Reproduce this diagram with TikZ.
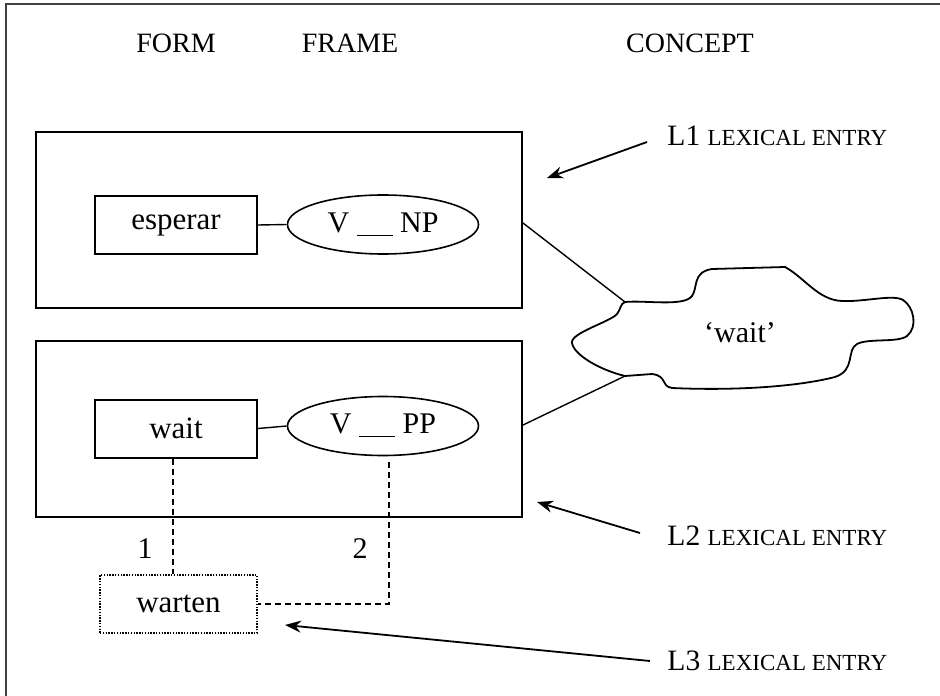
\documentclass[tikz,border=0pt]{standalone}
\usepackage{fontspec}
\setmainfont{Liberation Serif}
\usetikzlibrary{arrows.meta,shapes.geometric,calc}
\newcommand{\fsc}[1]{{\fontsize{11.5}{14}\selectfont #1}}
\begin{document}
\begin{tikzpicture}[x=0.5pt,y=-0.5pt,
  txt/.style={font=\fontsize{15}{17}\selectfont, inner sep=0pt},
  lab/.style={font=\fontsize{14.8}{17}\selectfont, inner sep=0pt},
  hdr/.style={font=\fontsize{14}{16}\selectfont, inner sep=0pt},
  entrybox/.style={draw, line width=1pt, minimum width=243pt, minimum height=88pt, inner sep=0pt},
  formbox/.style={draw, line width=1pt, minimum width=81pt, minimum height=29pt, inner sep=0pt, font=\fontsize{15.5}{17}\selectfont},
  framell/.style={draw, ellipse, line width=0.8pt, minimum width=95.5pt, minimum height=29.5pt, inner sep=0pt, font=\fontsize{15}{17}\selectfont},
  dotbox/.style={draw, line width=1pt, dash pattern=on 0.7pt off 0.7pt, minimum width=78.5pt, minimum height=29pt, inner sep=0pt, font=\fontsize{15.5}{17}\selectfont},
  link/.style={line width=0.7pt},
  dlink/.style={line width=1pt, dash pattern=on 3pt off 2pt},
  pointer/.style={line width=0.9pt, -{Stealth[length=8pt,width=6pt]}}
]
\useasboundingbox (0,0) rectangle (940,695);
% outer frame (top and left edges only)
\draw[line width=1pt, draw=black!75] (5.5,700) -- (5.5,4.5) -- (945,4.5);

% headers
\node[hdr] (hform) at (176,43) {FORM};
\node[hdr] (hframe) at (350,43) {FRAME};
\node[hdr] (hconcept) at (690,43) {CONCEPT};

% entry boxes
\node[entrybox] (L1) at (279,220) {};
\node[entrybox] (L2) at (279,428.5) {};

% forms and frames
\node[formbox] (esperar) at (176,225) {esperar};
\node[framell] (NP) at (383,224.5) {V \underline{\hspace{1.2em}} NP};
\node[formbox] (wait) at (176,428.5) {wait};
\node[framell] (PP) at (383,426) {V \underline{\hspace{1.2em}} PP};
\node[dotbox] (warten) at (178.5,604) {warten};

\draw[link] (esperar.east) -- (NP.west);
\draw[link] (wait.east) -- (PP.west);

% dashed links
\draw[dlink] ($(wait.south)+(-3,0)$) -- ($(wait.south -| warten.north)+(-5.5,0)$) coordinate (d1) -- (d1 |- warten.north);
\coordinate (ppb) at ($(PP.south)+(6,6)$);
\draw[dlink] (ppb) -- (ppb |- warten.east) -- (warten.east);
\node[txt] (n1) at (145,549) {1};
\node[txt] (n2) at (360,549) {2};

% cloud
\coordinate (cup) at (625,302);
\coordinate (clow) at (625,376);
\draw[line width=0.9pt] (cup) .. controls (645,300) and (684,307) .. (692,296)
  .. controls (698,288) and (692,272) .. (712,269) -- (785,267)
  .. controls (805,278) and (818,300) .. (842,301)
  .. controls (865,302) and (893,294) .. (903,300)
  .. controls (914,307) and (918,327) .. (907,336)
  .. controls (898,343) and (868,338) .. (857,344)
  .. controls (846,350) and (856,370) .. (835,377)
  .. controls (800,386) and (740,391) .. (672,388)
  .. controls (660,386) and (668,376) .. (652,374)
  -- (clow)
  .. controls (600,370) and (574,355) .. (572,343)
  .. controls (570,333) and (610,322) .. (617,314)
  .. controls (621,309) and (620,304) .. (cup) -- cycle;
\node[txt] (concept) at (740,333) {‘wait’};
\coordinate (l1out) at (L1.east |- 0,223);
\coordinate (l2out) at (L2.east |- 0,425);
\draw[link] (l1out) -- (cup);
\draw[link] (l2out) -- (clow);

% labels with pointers
\node[lab, anchor=west] (lab1) at (667,136) {L1 \fsc{LEXICAL ENTRY}};
\node[lab, anchor=west] (lab2) at (667,536) {L2 \fsc{LEXICAL ENTRY}};
\node[lab, anchor=west] (lab3) at (667,661) {L3 \fsc{LEXICAL ENTRY}};
\coordinate (t1) at (647,142);
\coordinate (h1) at (547,178);
\coordinate (t2) at (640,533);
\coordinate (h2) at (537,502);
\coordinate (t3) at (650,661);
\coordinate (h3) at (285,625);
\draw[pointer] (t1) -- (h1);
\draw[pointer] (t2) -- (h2);
\draw[pointer] (t3) -- (h3);
\end{tikzpicture}
\end{document}
